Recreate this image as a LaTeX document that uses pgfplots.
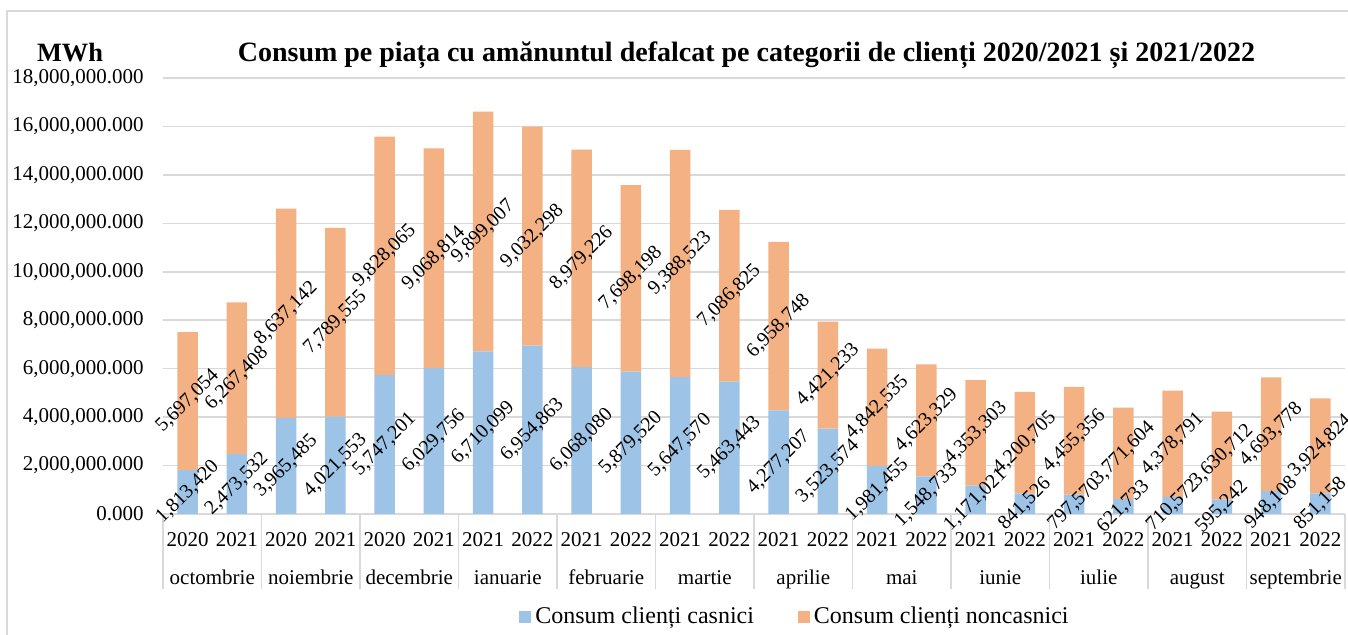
\documentclass[border=0pt]{standalone}
\usepackage{fontspec}
\setmainfont{Liberation Serif}
\usepackage{pgfplots}
\usepackage{pgfplotstable}
\pgfplotsset{compat=1.18}
\definecolor{gridgray}{HTML}{D9D9D9}
\definecolor{casblue}{HTML}{9DC3E6}
\definecolor{noncor}{HTML}{F4B183}
\pgfplotstableread{
x cas non lc ln
0 1813420 5697054 1,813,420 5,697,054
1 2473532 6267408 2,473,532 6,267,408
2 3965485 8637142 3,965,485 8,637,142
3 4021553 7789555 4,021,553 7,789,555
4 5747201 9828065 5,747,201 9,828,065
5 6029756 9068814 6,029,756 9,068,814
6 6710099 9899007 6,710,099 9,899,007
7 6954863 9032298 6,954,863 9,032,298
8 6068080 8979226 6,068,080 8,979,226
9 5879520 7698198 5,879,520 7,698,198
10 5647570 9388523 5,647,570 9,388,523
11 5463443 7086825 5,463,443 7,086,825
12 4277207 6958748 4,277,207 6,958,748
13 3523574 4421233 3,523,574 4,421,233
14 1981455 4842535 1,981,455 4,842,535
15 1548733 4623329 1,548,733 4,623,329
16 1171021 4353303 1,171,021 4,353,303
17 841526 4200705 841,526 4,200,705
18 797570 4455356 797,570 4,455,356
19 621733 3771604 621,733 3,771,604
20 710572 4378791 710,572 4,378,791
21 595242 3630712 595,242 3,630,712
22 948108 4693778 948,108 4,693,778
23 851158 3924824 851,158 3,924,824
}\data
\pgfplotsset{common/.style={
  scale only axis, width=591pt, height=218pt,
  xmin=-0.5, xmax=23.5, ymin=0, ymax=18000000,
  clip=false, scaled y ticks=false,
  tick label style={font=\fontsize{10.5}{12}\selectfont},
}}
\begin{document}
\begin{tikzpicture}
\useasboundingbox (-81.5pt,-60.5pt) rectangle (592.5pt,257pt);
\draw[gridgray, line width=0.75pt] (-78pt,251.5pt) rectangle (600pt,-70pt);
% main bars
\begin{axis}[common,
  ybar stacked, bar width=0.415,
  axis line style={draw=none},
  major tick length=0pt,
  ymajorgrids, grid style={color=gridgray, line width=0.75pt},
  ytick={0,2000000,4000000,6000000,8000000,10000000,12000000,14000000,16000000,18000000},
  yticklabels={0.000,{2,000,000.000},{4,000,000.000},{6,000,000.000},{8,000,000.000},{10,000,000.000},{12,000,000.000},{14,000,000.000},{16,000,000.000},{18,000,000.000}},
  yticklabel style={anchor=east, inner sep=0pt, xshift=-9.5pt},
  xtick={0,...,23},
  xticklabels={2020,2021,2020,2021,2020,2021,2021,2022,2021,2022,2021,2022,2021,2022,2021,2022,2021,2022,2021,2022,2021,2022,2021,2022},
  xticklabel style={anchor=base, yshift=-16.5pt},
  legend style={at={(0.5355,-0.236)}, anchor=center, draw=none, legend columns=2,
    font=\fontsize{12}{14}\selectfont,
    /tikz/every even column/.append style={column sep=20pt}},
  legend image code/.code={\draw[#1, draw=none] (0pt,-3pt) rectangle (6pt,3pt);},
]
\addplot[fill=casblue, draw=none] table[x=x, y=cas] {\data};
\addlegendentry{Consum clienți casnici}
\addplot[fill=noncor, draw=none] table[x=x, y=non] {\data};
\addlegendentry{Consum clienți noncasnici}
\end{axis}
% group separators
\begin{axis}[common,
  axis line style={draw=none},
  ytick=\empty,
  xtick={-0.5,1.5,3.5,5.5,7.5,9.5,11.5,13.5,15.5,17.5,19.5,21.5,23.5},
  xticklabel=\empty,
  xtick pos=left, tick align=outside, major tick length=37.5pt,
  tick style={color=gridgray, line width=0.75pt},
]
\end{axis}
% months and data labels
\begin{axis}[common,
  axis line style={draw=none},
  ytick=\empty, major tick length=0pt,
  xtick={0.5,2.5,4.5,6.5,8.5,10.5,12.5,14.5,16.5,18.5,20.5,22.5},
  xticklabels={octombrie,noiembrie,decembrie,ianuarie,februarie,martie,aprilie,mai,iunie,iulie,august,septembrie},
  xticklabel style={anchor=base, yshift=-35.5pt},
  point meta=explicit symbolic,
  nodes near coords={\pgfplotspointmeta},
  every node near coord/.append style={rotate=45, anchor=center, inner sep=0pt, font=\fontsize{10}{12}\selectfont},
]
\addplot[draw=none] table[x=x, y expr=\thisrow{cas}/2, meta=lc] {\data};
\addplot[draw=none] table[x=x, y expr=\thisrow{cas}+\thisrow{non}/2, meta=ln] {\data};
\end{axis}
\node[anchor=base, font=\bfseries\fontsize{14}{16}\selectfont] at (291.75pt,226pt) {Consum pe piața cu amănuntul defalcat pe categorii de clienți 2020/2021 și 2021/2022};
\node[anchor=base, font=\bfseries\fontsize{13.2}{15}\selectfont] at (-46.5pt,226pt) {MWh};
\end{tikzpicture}
\end{document}
